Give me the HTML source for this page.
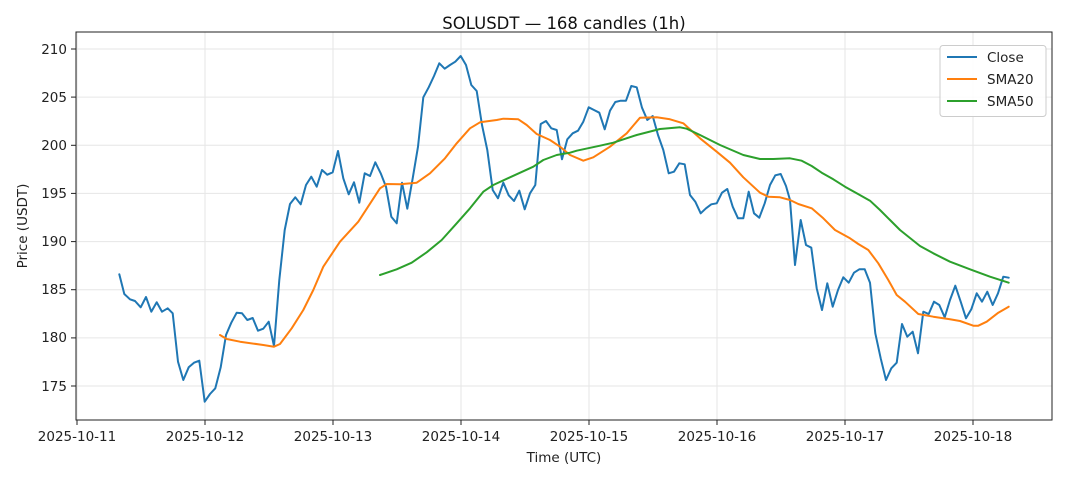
<!DOCTYPE html>
<html><head><meta charset="utf-8"><style>
html,body{margin:0;padding:0;background:#fff;}
svg{display:block;font-family:"DejaVu Sans","Liberation Sans",sans-serif;}
</style></head><body>
<svg width="1068" height="481" viewBox="0 0 1068 481" xmlns="http://www.w3.org/2000/svg">
<rect width="1068" height="481" fill="#fff"/>
<text x="564" y="29" font-size="16.5" text-anchor="middle" fill="#111">SOLUSDT — 168 candles (1h)</text>
<g stroke="#e6e6e6" stroke-width="1">
<line x1="76" x2="1052" y1="49" y2="49"/><line x1="76" x2="1052" y1="97.1" y2="97.1"/>
<line x1="76" x2="1052" y1="145.3" y2="145.3"/><line x1="76" x2="1052" y1="193.4" y2="193.4"/>
<line x1="76" x2="1052" y1="241.6" y2="241.6"/><line x1="76" x2="1052" y1="289.7" y2="289.7"/>
<line x1="76" x2="1052" y1="337.9" y2="337.9"/><line x1="76" x2="1052" y1="386" y2="386"/>
<line y1="32" y2="420" x1="77" x2="77"/><line y1="32" y2="420" x1="205" x2="205"/>
<line y1="32" y2="420" x1="333" x2="333"/><line y1="32" y2="420" x1="461" x2="461"/>
<line y1="32" y2="420" x1="589" x2="589"/><line y1="32" y2="420" x1="717" x2="717"/>
<line y1="32" y2="420" x1="845" x2="845"/><line y1="32" y2="420" x1="973" x2="973"/>
</g>
<rect x="76" y="32" width="976" height="388" fill="none" stroke="#222" stroke-width="1"/>
<g stroke="#222"><line x1="71" x2="76" y1="49" y2="49"/><line x1="71" x2="76" y1="97.1" y2="97.1"/><line x1="71" x2="76" y1="145.3" y2="145.3"/><line x1="71" x2="76" y1="193.4" y2="193.4"/><line x1="71" x2="76" y1="241.6" y2="241.6"/><line x1="71" x2="76" y1="289.7" y2="289.7"/><line x1="71" x2="76" y1="337.9" y2="337.9"/><line x1="71" x2="76" y1="386" y2="386"/>
<line y1="420" y2="425" x1="77" x2="77"/><line y1="420" y2="425" x1="205" x2="205"/><line y1="420" y2="425" x1="333" x2="333"/><line y1="420" y2="425" x1="461" x2="461"/><line y1="420" y2="425" x1="589" x2="589"/><line y1="420" y2="425" x1="717" x2="717"/><line y1="420" y2="425" x1="845" x2="845"/><line y1="420" y2="425" x1="973" x2="973"/></g>
<g font-size="13.5" fill="#222" text-anchor="end">
<text x="67" y="54">210</text><text x="67" y="102">205</text><text x="67" y="150">200</text><text x="67" y="198">195</text><text x="67" y="246">190</text><text x="67" y="294">185</text><text x="67" y="342">180</text><text x="67" y="391">175</text></g>
<g font-size="13.5" fill="#222" text-anchor="middle">
<text x="77" y="441">2025-10-11</text><text x="205" y="441">2025-10-12</text><text x="333" y="441">2025-10-13</text><text x="461" y="441">2025-10-14</text><text x="589" y="441">2025-10-15</text><text x="717" y="441">2025-10-16</text><text x="845" y="441">2025-10-17</text><text x="973" y="441">2025-10-18</text></g>
<text x="564" y="462" font-size="13.5" text-anchor="middle" fill="#222">Time (UTC)</text>
<text transform="translate(27,226) rotate(-90)" font-size="13.5" text-anchor="middle" fill="#222">Price (USDT)</text>
<g fill="none" stroke-width="2" stroke-linejoin="round" stroke-linecap="round">
<polyline stroke="#1f77b4" points="119.3,274.3 124.3,294 130,299.3 135,301 140.7,307.3 146,297 151.3,311.7 156.7,302.3 162,311.7 167.7,308.3 172.7,313.3 178,361.7 183.3,380 188.7,367.3 194,362.7 199.3,360.7 204.7,401.7 210,394 215.3,388.3 220.7,367.3 226,335 231.3,322.7 236.7,312.7 242,313.3 247.3,320 252.7,318 258,330.7 263.3,328.7 268.7,321.7 274,346 279.3,280 284.7,230 290,204 295.3,197.3 300.7,204.3 306,185 311.3,176.7 316.7,186.7 322,170 327.3,174.7 332.7,172.3 338,151 343.3,178.3 348.7,194.3 354,182.3 359.3,202.7 364.7,173.3 370,176 375.3,162.3 380.7,173.3 386,186.7 391.3,216.7 396.7,223.3 402,182.7 407.3,208.7 412.7,178.3 418,146.7 423.3,97.3 428.7,87.3 434,76 439.3,63.3 444.7,68.7 450,65 455.3,61.7 460.7,56 466,65 471.3,85 476.7,91 482,125 487.3,150 492.7,190 498,198.3 503.3,182.7 508.7,195.3 514,201 519.3,190.7 524.7,209.3 530,193.3 535.3,185 540.7,124 546,121 551.3,128.3 556.7,130 562,159.3 567.3,139.3 572.7,133.3 578,130.7 583.3,121.7 588.7,107.3 594,110 599.3,112.7 604.7,129.3 610,110.7 615.3,102 620.7,100.7 626,100.7 631.3,86 636.7,87.3 642,107.7 647.3,120 652.7,116 658,135 663.3,150 668.7,173.3 674,171.7 679.3,163.3 684.7,164.3 690,195 695.3,201.7 700.7,213.3 706,208.3 711.3,204.3 716.7,203.3 722,192.7 727.3,189 732.7,206.7 738,218.3 743.3,218.3 748.7,191.7 754,213.3 759.3,217.7 764.7,203.3 770,185 775.3,175.3 780.7,174 786,186 790,200 795,265 800.7,220 806,245 811.3,247.7 816.7,288.3 822,310 827.3,283.3 832.7,306.7 838,290 843.3,277.3 848.7,282.7 854,272.7 859.3,269.3 864.7,269.3 870,282.7 875.3,333.3 880.7,358.3 886,380 891.3,368.3 896.7,362.7 902,324 907.3,336.7 912.7,331.7 918,353.3 923.3,311.7 928.7,314 934,301.7 939.3,305 944.7,317.3 950,300 955.3,285.7 960.7,301.7 966,318.3 971.3,309.3 976.7,293.3 982,301.7 987.3,291.7 992.7,305 998,293.3 1003.3,276.7 1008.7,277.7"/>
<polyline stroke="#ff7f0e" points="220,335 226.7,339 240,341.7 263.3,345 274,346.7 280,344 291.7,328.3 303.3,310 313.3,290 323.3,266.7 333.3,251.7 340,241.7 358.3,221.7 380,188.3 386.7,184 400,184.3 416.7,182.7 430,173.3 445,158.3 456.7,143.3 470,128.3 480,122.3 496.7,120 503.3,118.7 518.3,119.3 526.7,125 536.7,134 550,140 560,146.7 570,155 583.3,160.7 593.3,157.3 610,146.7 626.7,133.3 640,117.7 656.7,117.3 670,119.3 683.3,123.3 700,138.3 716.7,151.7 730,162.7 743.3,177.3 760,192.7 768.3,196.7 780,197.3 790,200 798.3,204 811.7,208.3 823.3,218.3 835,230 850,238.3 858.3,244 868.3,250 878.3,263.3 888.3,280 896.7,295 905,301.7 918.3,314 933.3,316.7 950,319.3 960,321 973.3,325.7 978.3,325.7 986.7,321.7 998.3,312.7 1008.7,306.7"/>
<polyline stroke="#2ca02c" points="380,275 396.7,269.3 411.7,262.7 426.7,252.3 441.7,240 456.7,223.3 470,208.3 483.3,191.7 493.3,185 510,177.3 533.3,166.7 543.3,160 556.7,155 570,152.7 576.7,150.7 600,145.7 613.3,142.7 636.7,135 660,129 680,127.3 686.7,128.7 700,135 720,145 743.3,155 760,159 773.3,159 790,158.3 801.7,160.7 811.7,166 821.7,172.7 833.3,179.3 845,186.7 856.7,193.3 870,200.7 880,210 890,220 900,230 920,246 933.3,253.3 950,261.7 970,269.3 990,276.7 1008.7,282.7"/>
</g>
<rect x="940" y="45.5" width="106" height="71" rx="3" fill="#fff" fill-opacity="0.85" stroke="#ccc"/>
<g stroke-width="2"><line x1="947" x2="977" y1="57" y2="57" stroke="#1f77b4"/><line x1="947" x2="977" y1="79" y2="79" stroke="#ff7f0e"/><line x1="947" x2="977" y1="101" y2="101" stroke="#2ca02c"/></g>
<g font-size="13.5" fill="#222"><text x="987" y="62">Close</text><text x="987" y="84">SMA20</text><text x="987" y="106">SMA50</text></g>
</svg>
</body></html>
